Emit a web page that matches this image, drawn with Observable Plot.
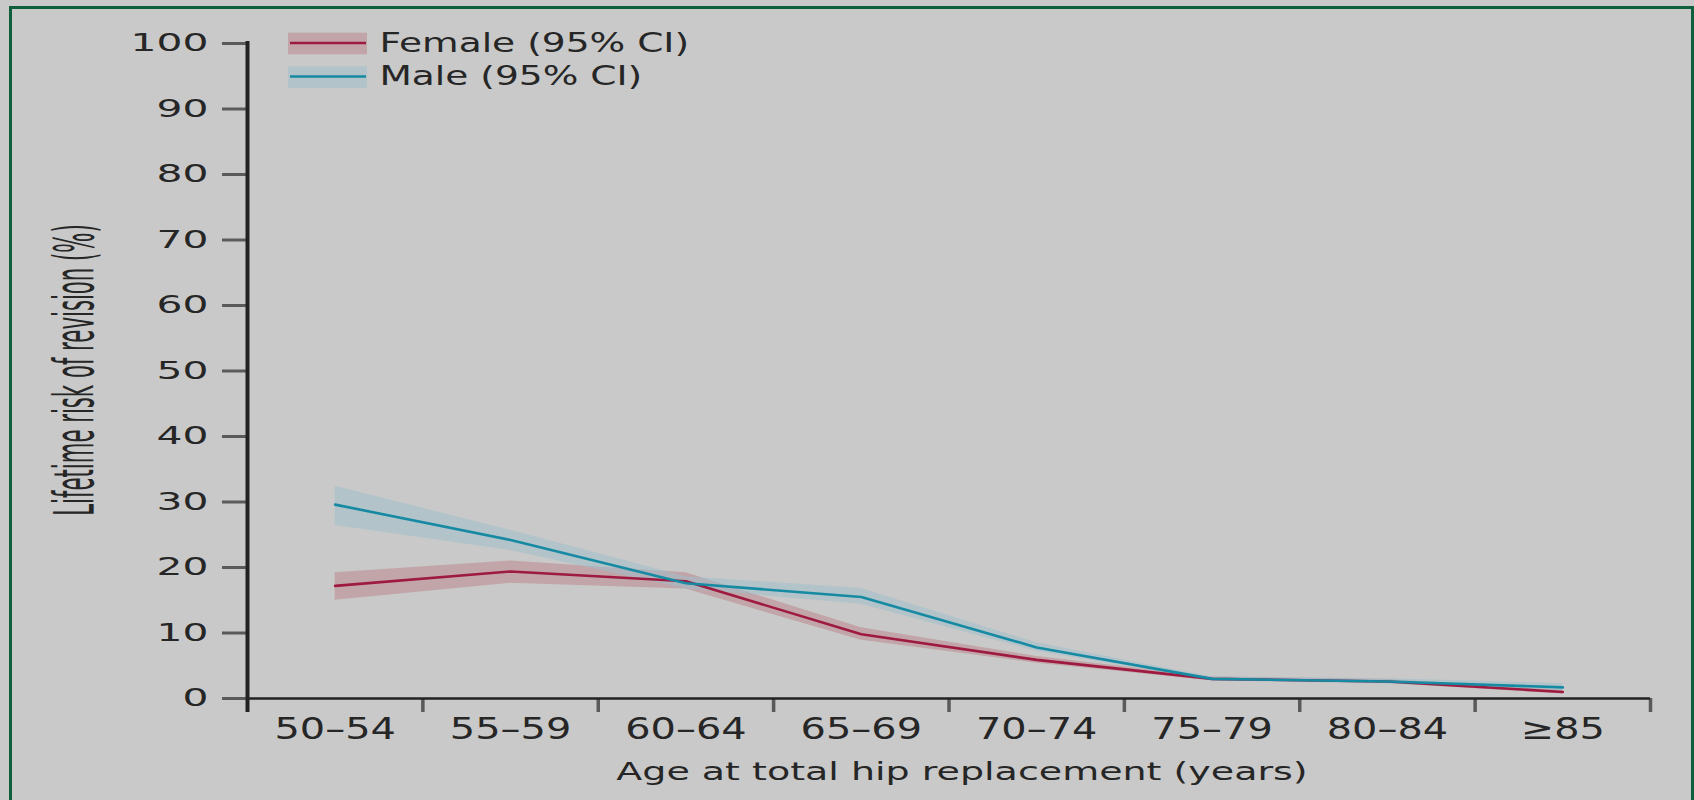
<!DOCTYPE html>
<html>
<head>
<meta charset="utf-8">
<script src="https://cdn.jsdelivr.net/npm/d3@7"></script>
<script src="https://cdn.jsdelivr.net/npm/@observablehq/plot@0.6"></script>
<style>
  html, body { margin: 0; padding: 0; background: #c9c9c9; }
  #wrap { position: relative; width: 1694px; height: 800px; overflow: hidden; background: #c9c9c9; font-family: "DejaVu Sans", sans-serif; }
  #border { position: absolute; left: 9px; top: 6px; width: 1685px; height: 830px; box-sizing: border-box; border: 3px solid #0f5f3c; }
  #chart, #legend { position: absolute; left: 0; top: 0; }
</style>
</head>
<body>
<div id="wrap">
  <div id="border"></div>
  <div id="chart"></div>
  <svg id="legend" width="800" height="110"></svg>
</div>
<script>
// ---- data ----
const categories = ["50–54", "55–59", "60–64", "65–69", "70–74", "75–79", "80–84", "≥85"];
const femaleRisk = [17.2, 19.4, 17.9, 9.8, 5.9, 3.0, 2.6, 1.0];
const femaleLow  = [15.0, 17.6, 16.7, 8.9, 5.4, 2.7, 2.3, 0.7];
const femaleHigh = [19.2, 21.0, 19.2, 10.8, 6.4, 3.3, 2.9, 1.3];
const maleRisk   = [29.6, 24.2, 17.6, 15.5, 7.8, 3.0, 2.6, 1.7];
const maleLow    = [26.4, 22.6, 16.7, 14.4, 7.2, 2.7, 2.2, 1.2];
const maleHigh   = [32.4, 25.7, 18.6, 16.8, 8.5, 3.3, 3.0, 2.3];
const yTicks = [0, 10, 20, 30, 40, 50, 60, 70, 80, 90, 100];
const seriesNames = ["Female", "Male"];
const legendLabels = ["Female (95% CI)", "Male (95% CI)"];
const xTitle = "Age at total hip replacement (years)";
const yTitle = "Lifetime risk of revision (%)";

// ---- styles ----
const lineColor = {Female: "#9e1a40", Male: "#168aa2"};
const bandColor = {Female: "#bb8187", Male: "#9bbfcb"};
const textColor = "#262626";

// ---- table ----
const rows = [];
categories.forEach((age, i) => {
  rows.push({age, sex: "Female", value: femaleRisk[i], lo: femaleLow[i], hi: femaleHigh[i]});
  rows.push({age, sex: "Male", value: maleRisk[i], lo: maleLow[i], hi: maleHigh[i]});
});
const xPos = d => categories.indexOf(d.age) + 0.5;   // centre of each age band
const bandEdges = d3.range(1, categories.length + 1);
const bandCentres = categories.map((c, i) => i + 0.5);

const marks = [];
for (const s of seriesNames) {
  marks.push(Plot.areaY(rows.filter(d => d.sex === s), {x: xPos, y1: "lo", y2: "hi", fill: bandColor[s], fillOpacity: 0.5}));
}
for (const s of seriesNames) {
  marks.push(Plot.lineY(rows.filter(d => d.sex === s), {x: xPos, y: "value", stroke: lineColor[s], strokeWidth: 2.6}));
}

const chart = Plot.plot({
  width: 1694,
  height: 800,
  marginLeft: 247,
  marginRight: 44,
  marginTop: 43,
  marginBottom: 102,
  style: {background: "transparent", fontFamily: "DejaVu Sans", color: textColor, overflow: "visible"},
  x: {type: "linear", domain: [0, categories.length], axis: null},
  y: {domain: [0, 100], axis: null},
  marks: [
    ...marks,
    Plot.axisY(yTicks, {tickSize: 25, tickPadding: 14, stroke: "#5a5a5a", strokeWidth: 3, fill: textColor, fontSize: 24, label: null}),
    Plot.axisX(bandEdges, {tickSize: 14, tickFormat: () => "", stroke: "#5a5a5a", strokeWidth: 3.5, label: null}),
    Plot.axisX(bandCentres, {tickSize: 0, tickPadding: 19, tickFormat: d => categories[Math.floor(d)], fill: textColor, fontSize: 30, label: null}),
    Plot.ruleY([0], {stroke: "#222", strokeWidth: 2.5}),
    Plot.ruleX([0], {stroke: "#222", strokeWidth: 4, insetTop: -2, insetBottom: -14}),
    Plot.text([xTitle], {text: d => d, frameAnchor: "bottom", textAnchor: "middle", lineAnchor: "bottom", dy: 81.5, dx: 13, fontSize: 25.5, fill: textColor}),
    Plot.text([yTitle], {text: d => d, frameAnchor: "left", textAnchor: "middle", lineAnchor: "bottom", rotate: -90, dx: -155, dy: -1, fontSize: 22, fill: textColor})
  ]
});
document.getElementById("chart").appendChild(chart);

// stretch text (the reference lettering is widened)
function stretchEl(t, sx, sy = 1) {
  const fs = parseFloat(getComputedStyle(t).fontSize) || 16;
  const p = v => v == null ? 0 : (/em$/.test(v) ? parseFloat(v) * fs : (parseFloat(v) || 0));
  const ax = p(t.getAttribute("x")), ay = p(t.getAttribute("y"));
  const tr = t.getAttribute("transform") || "";
  t.setAttribute("transform", `${tr} translate(${ax},${ay}) scale(${sx},${sy}) translate(${-ax},${-ay})`);
}
chart.querySelectorAll('g[aria-label="y-axis tick label"] text').forEach(t => stretchEl(t, 1.7));
chart.querySelectorAll('g[aria-label="x-axis tick label"] text').forEach(t => stretchEl(t, 1.33));
chart.querySelectorAll("text").forEach(t => {
  if (t.textContent === xTitle) stretchEl(t, 1.49);
  if (t.textContent === yTitle) stretchEl(t, 0.965, 2.49);
});

// legend
const lg = d3.select("#legend");
seriesNames.forEach((s, i) => {
  const top = 32.7 + i * 33.5;
  lg.append("rect").attr("x", 288).attr("y", top).attr("width", 79).attr("height", 21.6)
    .attr("fill", bandColor[s]).attr("fill-opacity", 0.5);
  lg.append("line").attr("x1", 290).attr("x2", 366).attr("y1", top + 10.3).attr("y2", top + 10.3)
    .attr("stroke", lineColor[s]).attr("stroke-width", 2.6);
  const bx = 379.5, by = top + 19.2;
  lg.append("text").attr("x", bx).attr("y", by)
    .attr("font-family", "DejaVu Sans").attr("font-size", 27.4).attr("fill", textColor)
    .attr("transform", `translate(${bx},${by}) scale(1.37,1) translate(${-bx},${-by})`)
    .text(legendLabels[i]);
});
</script>
</body>
</html>
